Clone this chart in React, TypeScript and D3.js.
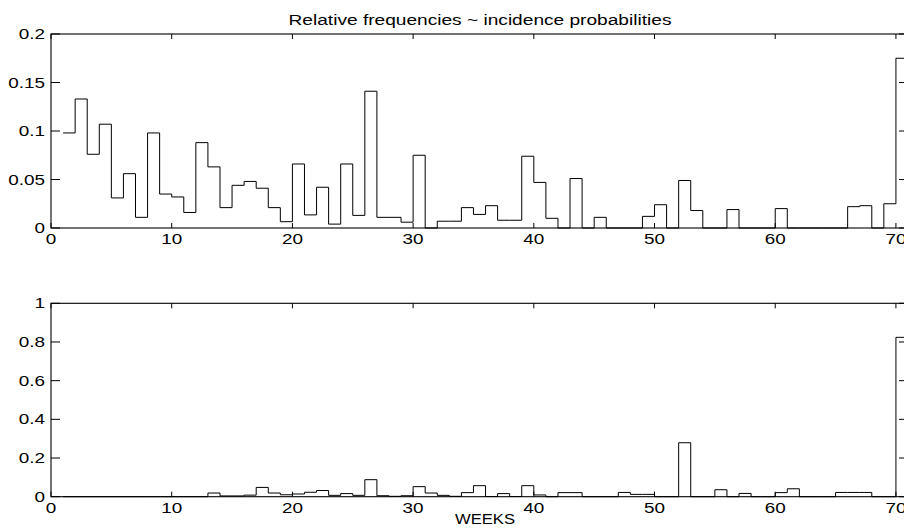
import React from "react";
import * as d3 from "d3";

// weeks 1..70
const weeks: number[] = Array.from({ length: 70 }, (_, i) => i + 1);

const topValues: number[] = [
  0.098, 0.133, 0.076, 0.107, 0.031, 0.056, 0.011, 0.098, 0.035, 0.032,
  0.016, 0.088, 0.063, 0.021, 0.044, 0.048, 0.041, 0.021, 0.0065, 0.066,
  0.0135, 0.042, 0.004, 0.066, 0.013, 0.141, 0.011, 0.011, 0.006, 0.075,
  0, 0.007, 0.007, 0.021, 0.014, 0.023, 0.008, 0.008, 0.074, 0.047,
  0.01, 0, 0.051, 0, 0.011, 0, 0, 0, 0.012, 0.024,
  0, 0.049, 0.018, 0, 0, 0.019, 0, 0, 0, 0.02,
  0, 0, 0, 0, 0, 0.022, 0.023, 0, 0.025, 0.175,
];

const bottomValues: number[] = [
  0, 0, 0, 0, 0, 0, 0, 0, 0, 0,
  0, 0, 0.019, 0.004, 0.004, 0.008, 0.048, 0.019, 0.01, 0.014,
  0.023, 0.032, 0.007, 0.016, 0.007, 0.088, 0.005, 0.002, 0.005, 0.052,
  0.019, 0.007, 0.002, 0.021, 0.057, 0.001, 0.016, 0.001, 0.057, 0.009,
  0, 0.021, 0.021, 0, 0, 0, 0.022, 0.012, 0.012, 0,
  0, 0.279, 0, 0, 0.036, 0, 0.017, 0, 0, 0.021,
  0.041, 0, 0, 0, 0.022, 0.022, 0.022, 0, 0, 0.824,
];

const xTicks: number[] = [0, 10, 20, 30, 40, 50, 60, 70];
const topYTicks: number[] = [0, 0.05, 0.1, 0.15, 0.2];
const topYLabels: string[] = ["0", "0.05", "0.1", "0.15", "0.2"];
const bottomYTicks: number[] = [0, 0.2, 0.4, 0.6, 0.8, 1];
const bottomYLabels: string[] = ["0", "0.2", "0.4", "0.6", "0.8", "1"];

const titleText = "Relative frequencies ~ incidence probabilities";
const xLabelText = "WEEKS";

const FONT = "'Liberation Sans', Arial, Helvetica, sans-serif";
const FS = 14;
const SX = 1.35;

const left = 51;
const right = 908;

function T({ x, y, s, anchor = "middle", sx = SX }: { x: number; y: number; s: string; anchor?: string; sx?: number }) {
  return (
    <text
      transform={`translate(${x},${y}) scale(${sx},1)`}
      textAnchor={anchor}
      fontFamily={FONT}
      fontSize={FS}
      fill="#000"
    >
      {s}
    </text>
  );
}

function Panel({
  values,
  top,
  bottom,
  yMax,
  yTicks,
  yLabels,
}: {
  values: number[];
  top: number;
  bottom: number;
  yMax: number;
  yTicks: number[];
  yLabels: string[];
}) {
  const x = d3.scaleLinear().domain([0, 71]).range([left, right]);
  const y = d3.scaleLinear().domain([0, yMax]).range([bottom, top]);
  const pts: [number, number][] = weeks.map((w, i) => [w, values[i]]);
  pts.push([weeks[weeks.length - 1] + 1, values[values.length - 1]]);
  const line = d3
    .line<[number, number]>()
    .x((d) => x(d[0]))
    .y((d) => y(d[1]))
    .curve(d3.curveStepAfter);
  const xTickLen = 5;
  const yTickLen = 9;
  return (
    <g>
      <path d={line(pts) || ""} fill="none" stroke="#000" strokeWidth={1} />
      <rect x={left} y={top} width={right - left} height={bottom - top} fill="none" stroke="#000" strokeWidth={1.1} />
      {xTicks.map((t) => (
        <g key={"x" + t}>
          <line x1={x(t)} x2={x(t)} y1={bottom} y2={bottom - xTickLen} stroke="#000" />
          <line x1={x(t)} x2={x(t)} y1={top} y2={top + xTickLen} stroke="#000" />
          <T x={x(t)} y={bottom + 16} s={String(t)} />
        </g>
      ))}
      {yTicks.map((t, i) => (
        <g key={"y" + t}>
          <line x1={left} x2={left + yTickLen} y1={y(t)} y2={y(t)} stroke="#000" />
          <line x1={right} x2={right - yTickLen} y1={y(t)} y2={y(t)} stroke="#000" />
          <T x={left - 6} y={y(t) + 5} s={yLabels[i]} anchor="end" />
        </g>
      ))}
    </g>
  );
}

export default function App() {
  return (
    <svg
      width={904}
      height={530}
      style={{ position: "absolute", left: 0, top: 0, background: "#fff" }}
    >
      <rect x={0} y={0} width={904} height={530} fill="#fff" />
      <T x={480} y={25} s={titleText} sx={1.365} />
      <Panel values={topValues} top={34} bottom={228} yMax={0.2} yTicks={topYTicks} yLabels={topYLabels} />
      <Panel values={bottomValues} top={303.3} bottom={496.7} yMax={1} yTicks={bottomYTicks} yLabels={bottomYLabels} />
      <T x={485} y={523.5} s={xLabelText} sx={1.19} />
    </svg>
  );
}
